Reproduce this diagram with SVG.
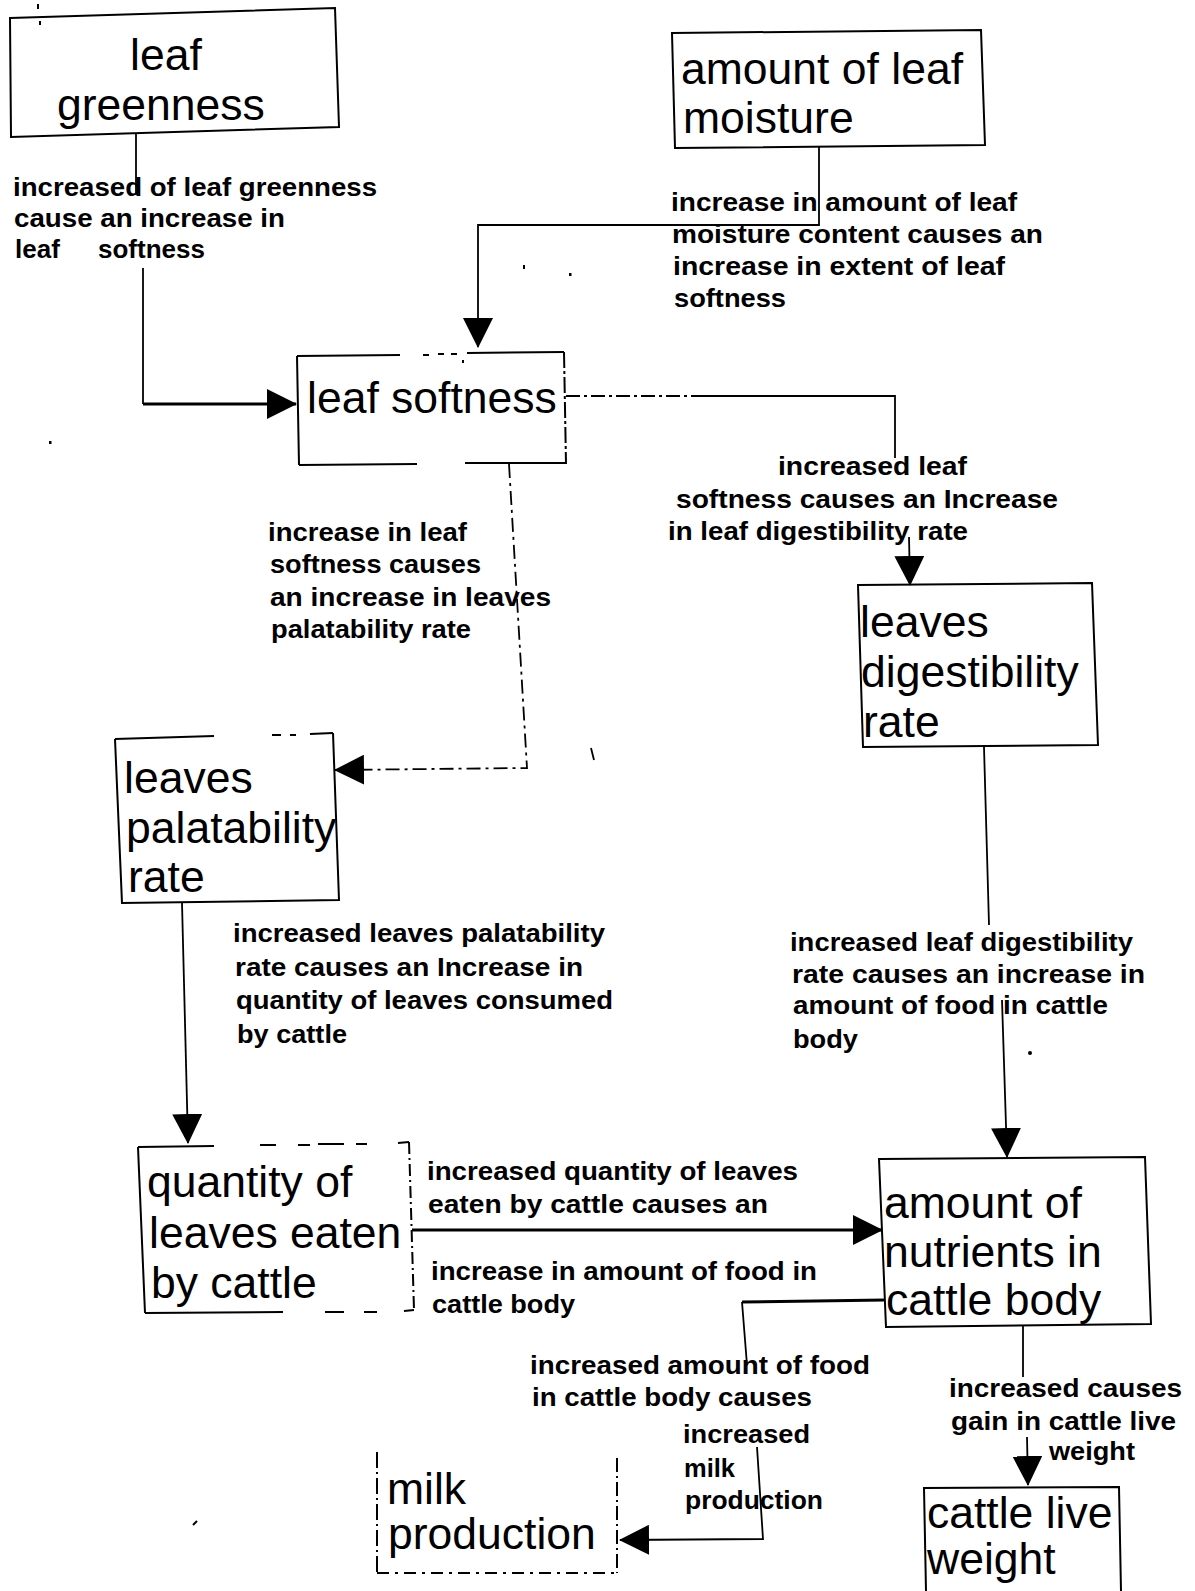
<svg xmlns="http://www.w3.org/2000/svg" width="1195" height="1591" viewBox="0 0 1195 1591">
  <defs>
    <style>
      .box { fill: none; stroke: #000; stroke-width: 2; }
      .conn { fill: none; stroke: #000; stroke-width: 1.8; }
      .heavy { stroke-width: 3; }
      .node-text { font-family: "Liberation Sans", Arial, Helvetica, sans-serif; font-size: 44.5px; fill: #000; }
      .lbl { font-family: "Liberation Sans", Arial, Helvetica, sans-serif; font-size: 26px; font-weight: bold; fill: #000; }
      .speck { fill: #000; stroke: none; }
    </style>
    <marker id="arrow" markerUnits="userSpaceOnUse" markerWidth="30" markerHeight="30" viewBox="0 0 30 30" refX="29" refY="15" orient="auto">
      <path d="M0,0 L30,15 L0,30 Z" fill="#000"/>
    </marker>
  </defs>

  <rect x="0" y="0" width="1195" height="1591" fill="#fff"/>

  <!-- nodes -->
  <g id="node-leaf-greenness">
    <polygon class="box" points="10,18 335,8 339,127 11,137"/>
    <text class="node-text" x="130" y="70">leaf</text>
    <text class="node-text" x="57" y="120">greenness</text>
  </g>

  <g id="node-leaf-moisture">
    <polygon class="box" points="672,33 981,30 985,145 675,148"/>
    <text class="node-text" x="681" y="84">amount of leaf</text>
    <text class="node-text" x="683" y="133">moisture</text>
  </g>

  <g id="node-leaf-softness">
    <path class="box" d="M297,356 L299,465"/>
    <path class="box" d="M297,356 L400,355 M423,355 L429,355 M438,354 L444,354 M451,354 L457,354 M467,353 L564,352"/>
    <path class="box" d="M564,352 L566,464" stroke-dasharray="16 3 3 3"/>
    <path class="box" d="M299,465 L417,464 M465,463 L566,463"/>
    <text class="node-text" x="307" y="413">leaf softness</text>
  </g>

  <g id="node-digestibility">
    <polygon class="box" points="858,585 1092,583 1098,745 863,747"/>
    <text class="node-text" x="860" y="637">leaves</text>
    <text class="node-text" x="861" y="687">digestibility</text>
    <text class="node-text" x="863" y="737">rate</text>
  </g>

  <g id="node-palatability">
    <path class="box" d="M115,739 L122,903 L339,900 L333,733"/>
    <path class="box" d="M115,739 L214,736 M272,735 L281,735 M290,735 L296,735 M310,734 L333,733"/>
    <text class="node-text" x="124" y="793">leaves</text>
    <text class="node-text" x="126" y="843">palatability</text>
    <text class="node-text" x="128" y="892">rate</text>
  </g>

  <g id="node-quantity-eaten">
    <path class="box" d="M138,1147 L145,1313"/>
    <path class="box" d="M138,1147 L214,1146 M260,1145 L276,1145 M298,1145 L310,1145 M318,1144 L344,1144 M356,1144 L367,1144 M398,1143 L409,1142"/>
    <path class="box" d="M409,1142 L414,1310" stroke-dasharray="12 4 2 4"/>
    <path class="box" d="M145,1313 L283,1312 M325,1312 L344,1312 M364,1312 L377,1312 M404,1311 L414,1310"/>
    <text class="node-text" x="147" y="1197">quantity of</text>
    <text class="node-text" x="149" y="1248">leaves eaten</text>
    <text class="node-text" x="151" y="1298">by cattle</text>
  </g>

  <g id="node-nutrients">
    <polygon class="box" points="879,1159 1145,1157 1151,1324 886,1327"/>
    <text class="node-text" x="884" y="1218">amount of</text>
    <text class="node-text" x="884" y="1267">nutrients in</text>
    <text class="node-text" x="886" y="1315">cattle body</text>
  </g>

  <g id="node-milk-production">
    <path class="box" d="M377,1452 L377,1573" stroke-dasharray="16 4 2 4"/>
    <path class="box" d="M377,1573 L617,1573" stroke-dasharray="12 6 3 6"/>
    <path class="box" d="M617,1458 L617,1573" stroke-dasharray="14 4 2 4"/>
    <text class="node-text" x="387" y="1504">milk</text>
    <text class="node-text" x="388" y="1549">production</text>
  </g>

  <g id="node-cattle-weight">
    <path class="box" d="M926,1591 L924,1488 L1119,1487 L1121,1591"/>
    <text class="node-text" x="927" y="1528">cattle live</text>
    <text class="node-text" x="927" y="1574">weight</text>
  </g>

  <!-- connectors -->
  <g id="connectors">
    <path class="conn" d="M136,133 L136,195"/>
    <path class="conn" d="M143,268 L143,404"/>
    <path class="conn heavy" d="M143,404 L296,404" marker-end="url(#arrow)"/>

    <path class="conn" d="M819,147 L819,225 L478,225 L478,347" marker-end="url(#arrow)"/>

    <path class="conn" d="M566,396 L700,396" stroke-dasharray="14 4 3 4"/>
    <path class="conn" d="M700,396 L895,396 L895,458 M909,537 L910,585" marker-end="url(#arrow)"/>

    <path class="conn" d="M509,464 L527,768 L335,770" stroke-dasharray="14 5 3 5" marker-end="url(#arrow)"/>

    <path class="conn" d="M182,903 L188,1143" marker-end="url(#arrow)"/>

    <path class="conn" d="M984,747 L989,925 M1002,1000 L1007,1157" marker-end="url(#arrow)"/>

    <path class="conn heavy" d="M412,1230 L882,1230" marker-end="url(#arrow)"/>

    <path class="conn heavy" d="M885,1300 L742,1302"/>
    <path class="conn" d="M742,1302 L747,1365 M757,1447 L763,1539 L620,1540" marker-end="url(#arrow)"/>

    <path class="conn" d="M1023,1326 L1023,1377 M1027,1437 L1028,1485" marker-end="url(#arrow)"/>
  </g>

  <!-- connector labels -->
  <g id="labels">
    <text class="lbl" x="13" y="196" textLength="364" lengthAdjust="spacingAndGlyphs">increased of leaf greenness</text>
    <text class="lbl" x="14" y="227" textLength="271" lengthAdjust="spacingAndGlyphs">cause an increase in</text>
    <text class="lbl" y="258"><tspan x="15">leaf</tspan><tspan x="98">softness</tspan></text>

    <text class="lbl" x="671" y="211" textLength="346" lengthAdjust="spacingAndGlyphs">increase in amount of leaf</text>
    <text class="lbl" x="672" y="243" textLength="371" lengthAdjust="spacingAndGlyphs">moisture content causes an</text>
    <text class="lbl" x="673" y="275" textLength="332" lengthAdjust="spacingAndGlyphs">increase in extent of leaf</text>
    <text class="lbl" x="674" y="307" textLength="112" lengthAdjust="spacingAndGlyphs">softness</text>

    <text class="lbl" x="778" y="475" textLength="189" lengthAdjust="spacingAndGlyphs">increased leaf</text>
    <text class="lbl" x="676" y="508" textLength="382" lengthAdjust="spacingAndGlyphs">softness causes an Increase</text>
    <text class="lbl" x="668" y="540" textLength="300" lengthAdjust="spacingAndGlyphs">in leaf digestibility rate</text>

    <text class="lbl" x="268" y="541" textLength="199" lengthAdjust="spacingAndGlyphs">increase in leaf</text>
    <text class="lbl" x="270" y="573" textLength="211" lengthAdjust="spacingAndGlyphs">softness causes</text>
    <text class="lbl" x="270" y="606" textLength="281" lengthAdjust="spacingAndGlyphs">an increase in leaves</text>
    <text class="lbl" x="271" y="638" textLength="200" lengthAdjust="spacingAndGlyphs">palatability rate</text>

    <text class="lbl" x="233" y="942" textLength="372" lengthAdjust="spacingAndGlyphs">increased leaves palatability</text>
    <text class="lbl" x="235" y="976" textLength="348" lengthAdjust="spacingAndGlyphs">rate causes an Increase in</text>
    <text class="lbl" x="236" y="1009" textLength="377" lengthAdjust="spacingAndGlyphs">quantity of leaves consumed</text>
    <text class="lbl" x="237" y="1043" textLength="110" lengthAdjust="spacingAndGlyphs">by cattle</text>

    <text class="lbl" x="790" y="951" textLength="343" lengthAdjust="spacingAndGlyphs">increased leaf digestibility</text>
    <text class="lbl" x="792" y="983" textLength="353" lengthAdjust="spacingAndGlyphs">rate causes an increase in</text>
    <text class="lbl" x="793" y="1014" textLength="315" lengthAdjust="spacingAndGlyphs">amount of food in cattle</text>
    <text class="lbl" x="793" y="1048" textLength="65" lengthAdjust="spacingAndGlyphs">body</text>

    <text class="lbl" x="427" y="1180" textLength="371" lengthAdjust="spacingAndGlyphs">increased quantity of leaves</text>
    <text class="lbl" x="428" y="1213" textLength="340" lengthAdjust="spacingAndGlyphs">eaten by cattle causes an</text>
    <text class="lbl" x="431" y="1280" textLength="386" lengthAdjust="spacingAndGlyphs">increase in amount of food in</text>
    <text class="lbl" x="432" y="1313" textLength="143" lengthAdjust="spacingAndGlyphs">cattle body</text>

    <text class="lbl" x="530" y="1374" textLength="340" lengthAdjust="spacingAndGlyphs">increased amount of food</text>
    <text class="lbl" x="532" y="1406" textLength="280" lengthAdjust="spacingAndGlyphs">in cattle body causes</text>
    <text class="lbl" x="683" y="1443" textLength="127" lengthAdjust="spacingAndGlyphs">increased</text>
    <text class="lbl" x="684" y="1477" textLength="51" lengthAdjust="spacingAndGlyphs">milk</text>
    <text class="lbl" x="685" y="1509" textLength="138" lengthAdjust="spacingAndGlyphs">production</text>

    <text class="lbl" x="949" y="1397" textLength="233" lengthAdjust="spacingAndGlyphs">increased causes</text>
    <text class="lbl" x="951" y="1430" textLength="225" lengthAdjust="spacingAndGlyphs">gain in cattle live</text>
    <text class="lbl" x="1049" y="1460" textLength="86" lengthAdjust="spacingAndGlyphs">weight</text>
  </g>

  <!-- stray scan specks -->
  <g id="specks">
    <rect class="speck" x="37" y="4" width="2" height="5"/>
    <rect class="speck" x="39" y="21" width="2" height="4"/>
    <rect class="speck" x="523" y="265" width="2" height="4"/>
    <rect class="speck" x="569" y="273" width="2.5" height="3"/>
    <rect class="speck" x="49" y="441" width="2.5" height="3"/>
    <rect class="speck" x="462" y="360" width="2" height="3"/>
    <path d="M591,748 L594,760" stroke="#000" stroke-width="1.8"/>
    <circle class="speck" cx="1030" cy="1053" r="2"/>
    <path d="M197,1521 L193,1525" stroke="#000" stroke-width="2"/>
  </g>
</svg>
